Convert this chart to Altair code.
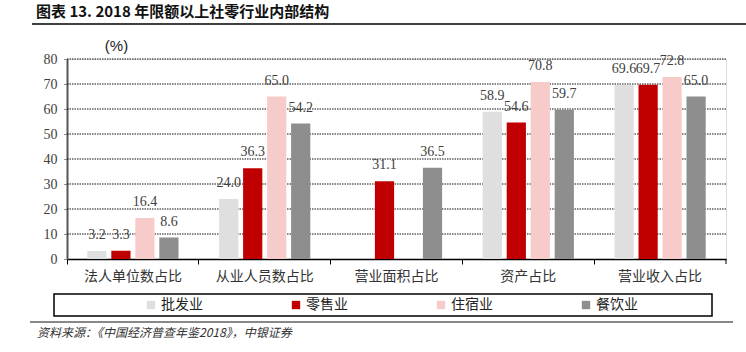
import altair as alt
import pandas as pd

categories = ["法人单位数占比", "从业人员数占比", "营业面积占比", "资产占比", "营业收入占比"]
series = ["批发业", "零售业", "住宿业", "餐饮业"]
colors = ["#DFDFDF", "#C00000", "#F8CBCB", "#8E8E8E"]
v_pifa = [3.2, 24.0, None, 58.9, 69.6]
v_lingshou = [3.3, 36.3, 31.1, 54.6, 69.7]
v_zhusu = [16.4, 65.0, None, 70.8, 72.8]
v_canyin = [8.6, 54.2, 36.5, 59.7, 65.0]
y_ticks = [0, 10, 20, 30, 40, 50, 60, 70, 80]

title_text = "图表 13. 2018 年限额以上社零行业内部结构"
source_text = "资料来源：《中国经济普查年鉴2018》，中银证券"

rows = []
for s, vals in zip(series, [v_pifa, v_lingshou, v_zhusu, v_canyin]):
    for c, v in zip(categories, vals):
        if v is not None:
            rows.append({"cat": c, "series": s, "value": v})
df = pd.DataFrame(rows)
grid_df = pd.DataFrame({"value": y_ticks[1:]})

W, H = 659, 200
SERIF = "Liberation Serif"
CJK = "Noto Sans CJK SC"

x_enc = alt.X("cat:N", sort=categories, scale=alt.Scale(paddingInner=0, paddingOuter=0),
              axis=alt.Axis(title=None, bandPosition=0, labelAngle=0, labelFont=CJK, labelFontSize=14,
                            labelColor="#333333", labelPadding=5, tickSize=5, tickColor="#000000",
                            tickWidth=1, domainColor="#000000", domainWidth=1.5, grid=False))
xo_enc = alt.XOffset("series:N", sort=series, scale=alt.Scale(domain=series, paddingInner=0.2, paddingOuter=0.846))
y_scale = alt.Scale(domain=[0, 80], nice=False)
y_axis = alt.Axis(values=y_ticks, labelOverlap=False, title="(%)", titleAngle=0,
                  titleX=49, titleY=-14,
                  titleAlign="center", titleBaseline="middle", titleFont="Liberation Sans",
                  titleFontSize=15, titleFontWeight="normal", titleColor="#222222",
                  labelFont=SERIF, labelFontSize=14, labelColor="#404040", labelPadding=6,
                  tickSize=4, tickColor="#222222", tickDash=[1, 1],
                  grid=False,
                  domainColor="#555555", domainWidth=2)
y_enc = alt.Y("value:Q", scale=y_scale, axis=y_axis)

gridlines = alt.Chart(grid_df).mark_rule(color="#111111", strokeWidth=1, strokeDash=[1.5, 1]).encode(
    y=alt.Y("value:Q", scale=y_scale, axis=y_axis),
    x=alt.value(0), x2=alt.value(W),
)

bars = alt.Chart(df).mark_bar().encode(
    x=x_enc, xOffset=xo_enc, y=y_enc,
    color=alt.Color("series:N", sort=series, scale=alt.Scale(domain=series, range=colors),
                    legend=alt.Legend(title=None, orient="none", legendX=77, legendY=239,
                                      direction="horizontal", columnPadding=86, symbolType="square",
                                      symbolSize=70, symbolStrokeWidth=0, labelOffset=3,
                                      labelFont=CJK, labelFontSize=14, labelColor="#222222", padding=0)),
)

labels = alt.Chart(df).mark_text(font=SERIF, fontSize=14, color="#404040", baseline="alphabetic", dy=-12).encode(
    x=x_enc, xOffset=xo_enc, y=y_enc,
    text=alt.Text("value:Q", format=".1f"),
)

one = alt.Data(values=[{}])
title_mark = alt.Chart(one).mark_text(text=title_text, font=CJK, fontSize=15, fontWeight="bold",
                                      align="left", baseline="middle", color="#111111").encode(
    x=alt.value(-31), y=alt.value(-47))
title_rule = alt.Chart(one).mark_rule(color="#000000", strokeWidth=1.5).encode(
    x=alt.value(-35), x2=alt.value(679), y=alt.value(-35))
end_tick = alt.Chart(one).mark_rule(color="#000000", strokeWidth=1).encode(
    x=alt.value(W), y=alt.value(H), y2=alt.value(H + 5))
legend_box = alt.Chart(one).mark_rect(fill=None, stroke="#000000", strokeWidth=1.5).encode(
    x=alt.value(-13), x2=alt.value(645), y=alt.value(235), y2=alt.value(257))
grey_rule = alt.Chart(one).mark_rule(color="#888888", strokeWidth=2).encode(
    x=alt.value(-37), x2=alt.value(666), y=alt.value(263))
source_mark = alt.Chart(one).mark_text(text=source_text, font=CJK, fontSize=12, fontStyle="italic",
                                       align="left", baseline="middle", color="#333333").encode(
    x=alt.value(-30), y=alt.value(274))

chart = alt.layer(gridlines, bars, labels, title_mark, title_rule, end_tick, legend_box, grey_rule, source_mark).properties(
    width=W, height=H,
    autosize=alt.AutoSizeParams(type="none"),
    padding={"left": 67, "top": 59, "right": 20, "bottom": 93},
).configure_view(stroke=None).configure(background="white")

chart.save("out.html", embed_options={"renderer": "svg", "actions": False})
